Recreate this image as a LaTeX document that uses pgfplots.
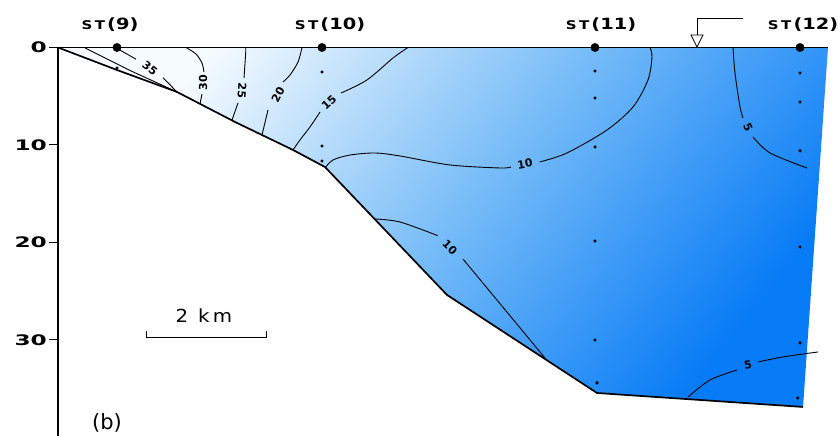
\documentclass[border=0pt]{standalone}
\usepackage{pgfplots}
\pgfplotsset{compat=1.18}
\usepackage{graphicx}
\usepackage{fontspec}
\setmainfont{DejaVu Sans}
\definecolor{seatop}{RGB}{246,251,254}
\definecolor{seamid}{RGB}{120,189,248}
\definecolor{seabot}{RGB}{8,124,246}
\newcommand{\tl}[1]{\scalebox{1.6}[1]{#1}}
\newcommand{\st}[1]{\scalebox{1.25}[1]{{\fontsize{12}{12}\selectfont S\,T}\,{\fontsize{15.5}{15.5}\selectfont(#1)}}}
\begin{document}
\begin{tikzpicture}
\begin{axis}[
  scale only axis, width=780pt, height=389pt,
  xmin=0, xmax=13, ymin=0, ymax=39.9, y dir=reverse,
  axis x line=none, axis y line=left,
  axis line style={line width=1.3pt, -},
  ytick={0,10,20,30}, tick align=outside, major tick length=9pt,
  tick style={line width=1pt, black},
  yticklabels={\tl{0},\tl{10},\tl{20},\tl{30}},
  yticklabel style={font=\bfseries\fontsize{14.5}{14.5}\selectfont, inner sep=2pt},
  clip=false,
]
% water body (gradient)
\addplot[draw=none, top color=seatop, bottom color=seabot, middle color=seamid, shading angle=51] coordinates {
 (0,0) (12.833,0) (12.417,36.87) (8.983,35.44) (6.483,25.38) (4.45,12.26)
 (3.917,10.51) (2.95,7.64) (1.983,4.56) (0.983,2.31)} -- cycle;
% surface and bottom
\addplot[black, line width=1.5pt] coordinates {(0,0) (12.833,0)};
\addplot[black, line width=1.7pt, line join=round] coordinates {
 (0,0) (0.983,2.31) (1.983,4.56) (2.95,7.64) (3.917,10.51) (4.45,12.26)
 (6.483,25.38) (8.983,35.44) (12.417,36.87)};
% contours
\addplot[black, line width=0.9pt] coordinates {(0.45,0.05) (1.2,2.36) (1.983,4.56)};
\addplot[black, line width=0.9pt] coordinates {(1.03,0.26) (1.3,1.2)};
\addplot[black, line width=0.9pt] coordinates {(1.75,3.1) (1.983,4.56)};
\addplot[black, line width=0.9pt, smooth] coordinates {(2.133,0) (2.3,0.67) (2.4,1.6) (2.433,2.51)};
\addplot[black, line width=0.9pt, smooth] coordinates {(2.4,4.77) (2.367,5.79)};
\addplot[black, line width=0.9pt, smooth] coordinates {(3.117,0) (3.13,0.3) (3.1,3.13)};
\addplot[black, line width=0.9pt, smooth] coordinates {(3.0,5.69) (2.9,7.44)};
\addplot[black, line width=0.9pt, smooth] coordinates {(4.067,0) (4.0,1.49) (3.867,2.82) (3.75,3.54)};
\addplot[black, line width=0.9pt, smooth] coordinates {(3.5,6.41) (3.4,8.97)};
\addplot[black, line width=0.9pt, smooth] coordinates {(5.833,0) (5.583,1.08) (5.15,3.33) (4.717,4.67)};
\addplot[black, line width=0.9pt, smooth] coordinates {(4.367,6.62) (4.2,8.15) (4.033,9.49) (3.917,10.51)};
\addplot[black, line width=0.9pt, smooth] coordinates {(4.45,12.36) (4.583,11.54) (4.867,11.03) (5.283,10.82) (5.7,11.13) (6.533,12.05) (7.367,12.36) (7.55,12.26)};
\addplot[black, line width=0.9pt, smooth] coordinates {(8.03,11.74) (8.483,10.82) (9.15,8.46) (9.583,6.1) (9.833,3.33) (9.9,0.97) (9.867,0)};
\addplot[black, line width=0.9pt, smooth] coordinates {(5.283,17.59) (5.7,17.9) (6.33,19.3)};
\addplot[black, line width=0.9pt] coordinates {(6.75,21.7) (8.117,31.85)};
\addplot[black, line width=0.9pt, smooth] coordinates {(11.25,0) (11.283,2.62) (11.367,6.1) (11.417,7.23)};
\addplot[black, line width=0.9pt, smooth] coordinates {(11.583,9.18) (11.867,10.82) (12.483,12.36)};
\addplot[black, line width=0.9pt, smooth] coordinates {(10.5,35.85) (10.867,34.1) (11.317,33.08)};
\addplot[black, line width=0.9pt, smooth] coordinates {(11.667,32.26) (12.083,31.74) (12.667,31.23)};
% contour labels
\begin{scope}[every node/.style={font=\bfseries\fontsize{11}{11}\selectfont, inner sep=0pt}]
\node[rotate=-38] at (axis cs:1.533,2.1) {35};
\node[rotate=90] at (axis cs:2.417,3.64) {30};
\node[rotate=-95] at (axis cs:3.067,4.46) {25};
\node[rotate=62] at (axis cs:3.667,4.87) {20};
\node[rotate=42] at (axis cs:4.517,5.6) {15};
\node[rotate=10] at (axis cs:7.783,11.95) {10};
\node[rotate=-45] at (axis cs:6.533,20.5) {10};
\node[rotate=-65] at (axis cs:11.5,8.15) {5};
\node[rotate=10] at (axis cs:11.5,32.56) {5};
\end{scope}
% stations
\addplot[only marks, mark=*, mark size=4.2pt, black] coordinates {(0.983,0) (4.4,0) (8.95,0) (12.367,0)};
\addplot[only marks, mark=*, mark size=1.4pt, black] coordinates {
 (0.983,2.1) (4.4,2.51) (4.4,10.1) (4.4,11.64)
 (8.95,2.41) (8.95,5.18) (8.95,10.2) (8.95,19.85) (8.95,30.0) (8.983,34.4)
 (12.367,2.62) (12.367,5.59) (12.367,10.6) (12.367,20.46) (12.367,30.3) (12.33,35.95)};
\begin{scope}[every node/.style={font=\bfseries}]
\node at (axis cs:0.867,-2.31) {\st{9}};
\node at (axis cs:4.533,-2.31) {\st{10}};
\node at (axis cs:9.05,-2.31) {\st{11}};
\node at (axis cs:12.417,-2.31) {\st{12}};
\end{scope}
% discharge marker
\draw[line width=0.8pt] (axis cs:11.417,-3.03) -- (axis cs:10.65,-3.03) -- (axis cs:10.65,-1.28);
\draw[line width=0.8pt, fill=white] (axis cs:10.55,-1.28) -- (axis cs:10.75,-1.28) -- (axis cs:10.65,-0.05) -- cycle;
% scale bar
\draw[line width=1pt] (axis cs:1.483,29.1) -- (axis cs:1.483,29.7) -- (axis cs:3.483,29.7) -- (axis cs:3.483,29.1);
\node at (axis cs:2.433,27.54) {\scalebox{1.1}[1]{\fontsize{18}{18}\selectfont 2\enspace k\,m}};
\node at (axis cs:0.817,38.5) {\fontsize{21}{21}\selectfont (b)};
\coordinate (bbBL) at (axis cs:-0.9667,39.9);
\coordinate (bbTR) at (axis cs:13,-4.87);
\end{axis}
\pgfresetboundingbox
\useasboundingbox (bbBL) rectangle (bbTR);
\end{tikzpicture}
\end{document}
